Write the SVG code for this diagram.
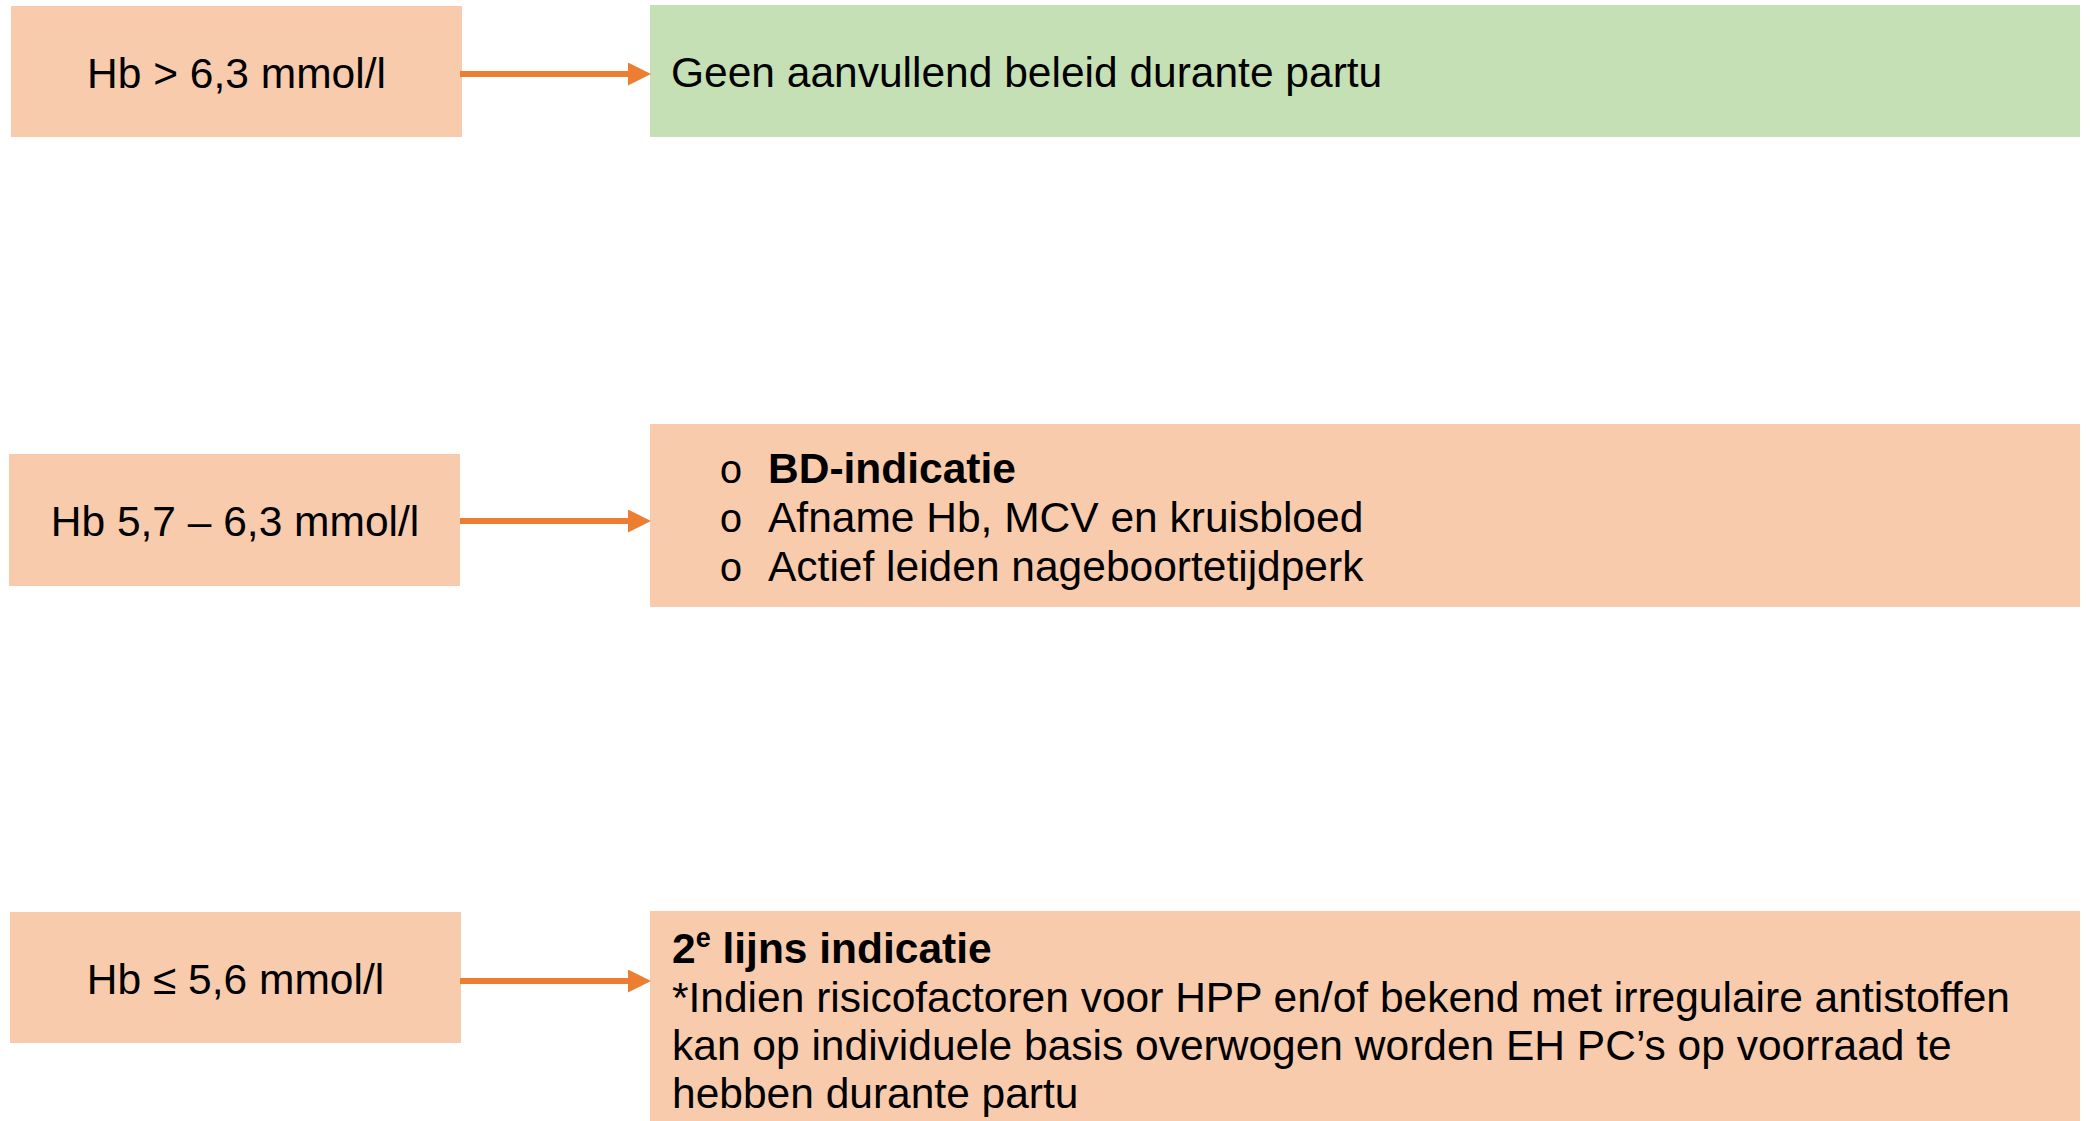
<svg xmlns="http://www.w3.org/2000/svg" width="2090" height="1121" viewBox="0 0 2090 1121">
<style>
.peach{fill:#F8CBAD}
.green{fill:#C5E0B4}
.t{font-family:"Liberation Sans",Arial,sans-serif;font-size:42.5px;fill:#000}
.c{text-anchor:middle}
.b{font-weight:bold}
.bul{font-family:"Liberation Mono","Courier New",monospace;font-size:40px;fill:#000}
.conn{stroke:#ED7D31;stroke-width:6;fill:none}
</style>
<defs>
<marker id="ah" markerUnits="userSpaceOnUse" markerWidth="23" markerHeight="23" refX="0" refY="11.5" orient="auto">
<path d="M0,0 L23,11.5 L0,23 Z" fill="#ED7D31"/>
</marker>
</defs>
<rect width="2090" height="1121" fill="#fff"/>
<g id="n1">
<rect class="peach" x="11" y="6" width="451" height="131"/>
<text class="t c" x="236.5" y="88">Hb &gt; 6,3 mmol/l</text>
</g>
<g id="n2">
<rect class="green" x="650" y="5" width="1430" height="132"/>
<text class="t" x="671" y="87">Geen aanvullend beleid durante partu</text>
</g>
<g id="n3">
<rect class="peach" x="9" y="454" width="451" height="132"/>
<text class="t c" x="235" y="536">Hb 5,7 – 6,3 mmol/l</text>
</g>
<g id="n4">
<rect class="peach" x="650" y="424" width="1430" height="183"/>
<text class="bul" x="719" y="483">o</text>
<text class="t b" x="768" y="483">BD-indicatie</text>
<text class="bul" x="719" y="532">o</text>
<text class="t" x="768" y="532">Afname Hb, MCV en kruisbloed</text>
<text class="bul" x="719" y="581">o</text>
<text class="t" x="768" y="581">Actief leiden nageboortetijdperk</text>
</g>
<g id="n5">
<rect class="peach" x="10" y="912" width="451" height="131"/>
<text class="t c" x="235.5" y="994">Hb ≤ 5,6 mmol/l</text>
</g>
<g id="n6">
<rect class="peach" x="650" y="911" width="1430" height="210"/>
<text class="t b" x="672" y="963">2<tspan font-size="27" dy="-16">e</tspan><tspan dy="16"> lijns indicatie</tspan></text>
<text class="t" x="672" y="1012">*Indien risicofactoren voor HPP en/of bekend met irregulaire antistoffen</text>
<text class="t" x="672" y="1060">kan op individuele basis overwogen worden EH PC’s op voorraad te</text>
<text class="t" x="672" y="1108">hebben durante partu</text>
</g>
<g id="connectors">
<line class="conn" x1="460" y1="74" x2="628" y2="74" marker-end="url(#ah)"/>
<line class="conn" x1="460" y1="521" x2="628" y2="521" marker-end="url(#ah)"/>
<line class="conn" x1="460" y1="981" x2="628" y2="981" marker-end="url(#ah)"/>
</g>
</svg>
